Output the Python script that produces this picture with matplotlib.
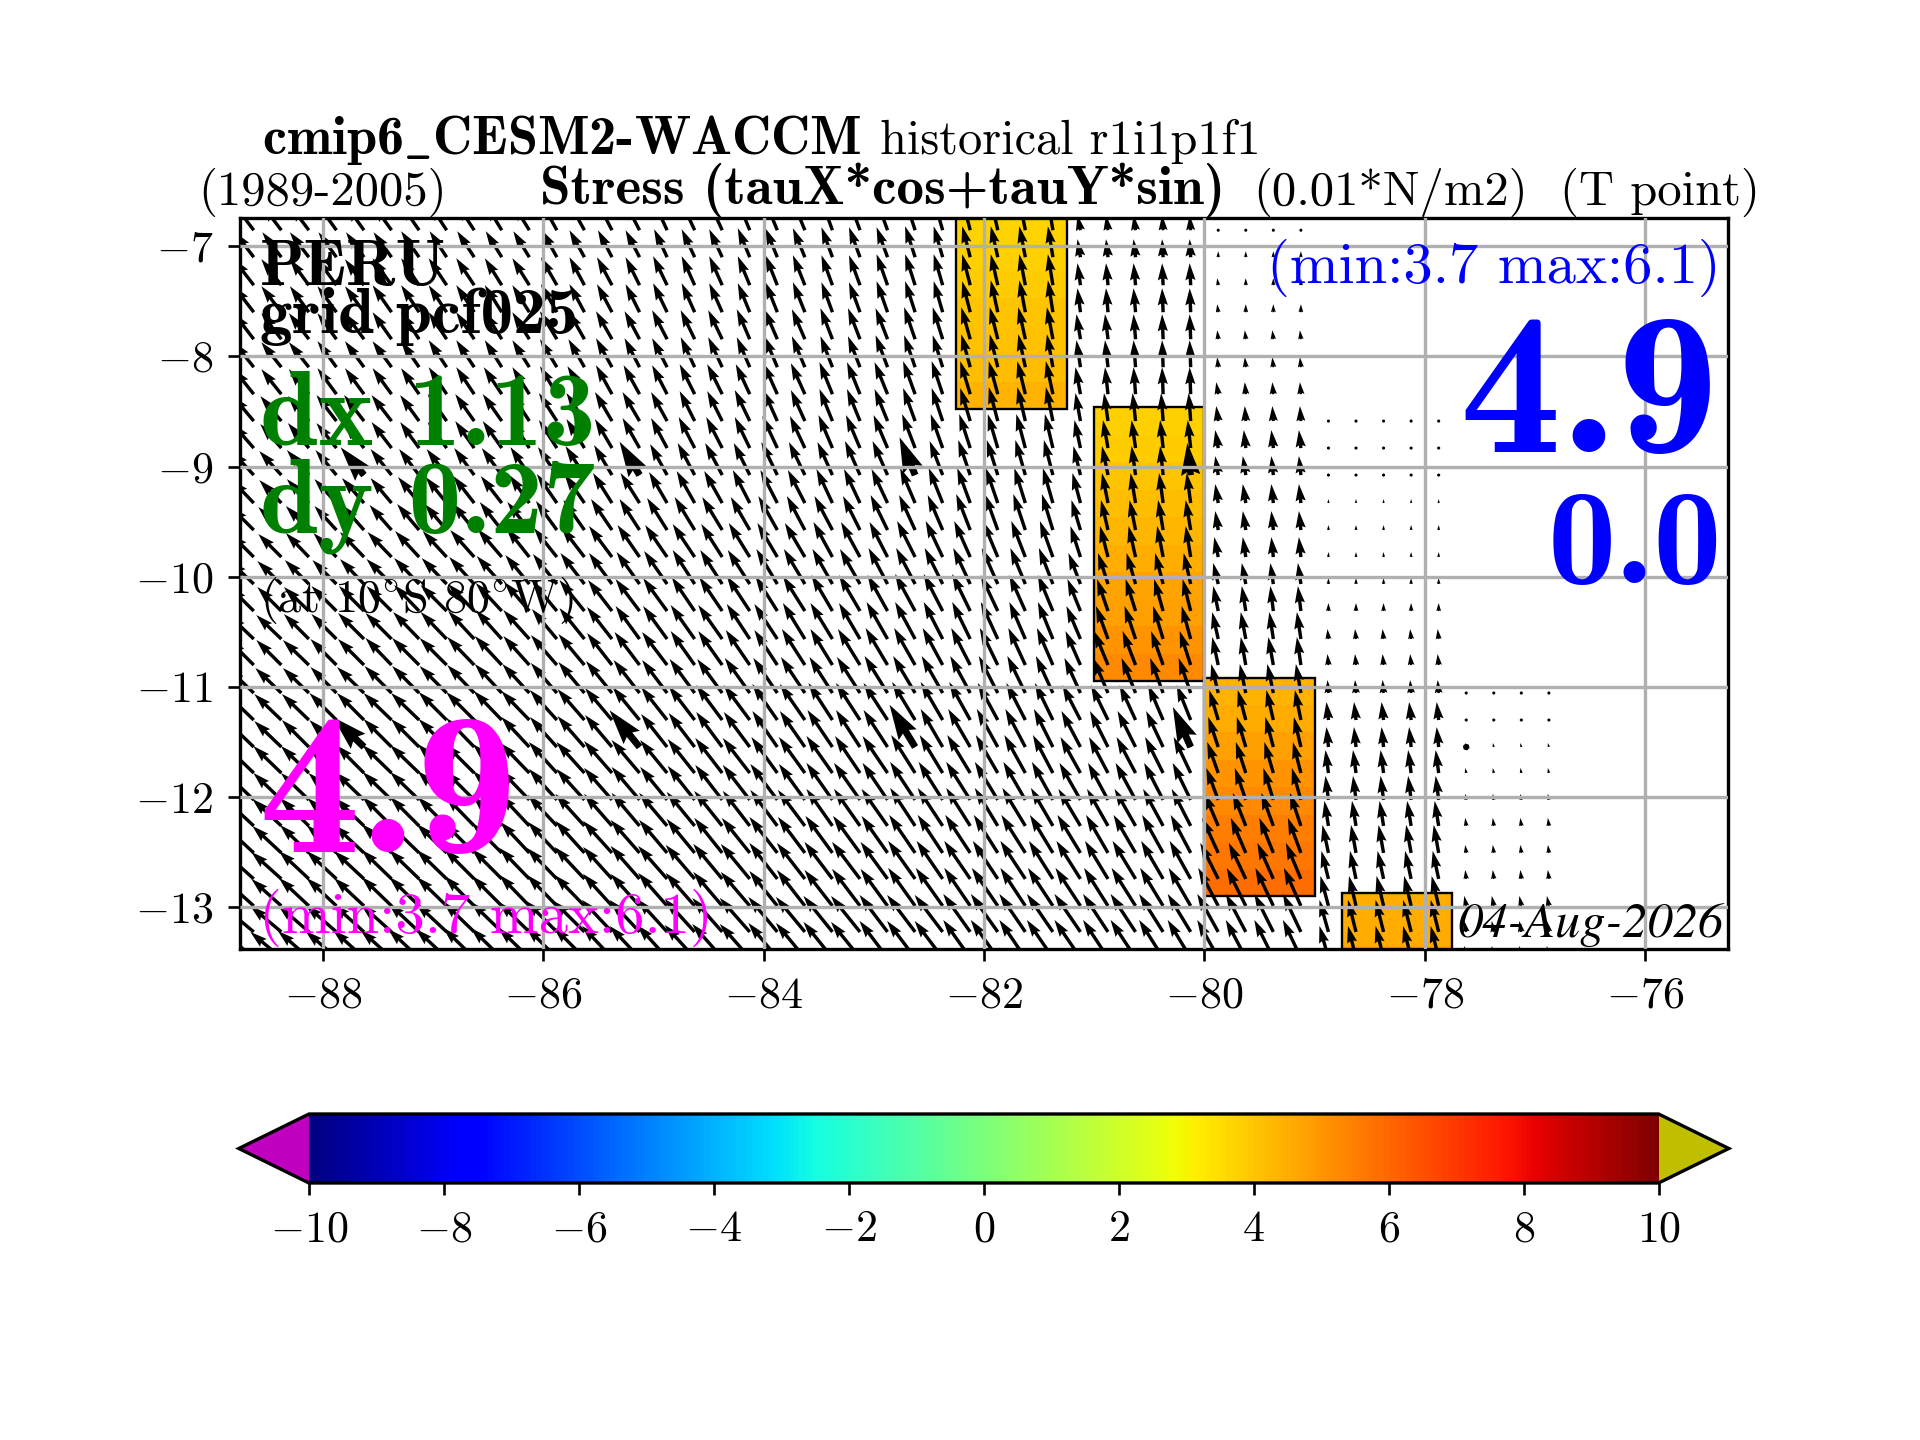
import numpy as np
import matplotlib
matplotlib.use("Agg")
import matplotlib.pyplot as plt
from matplotlib.patches import Rectangle

plt.rcParams.update({
    "font.family": "cmr10",
    "mathtext.fontset": "cm",
    "axes.formatter.use_mathtext": True,
    "axes.unicode_minus": True,
    "xtick.labelsize": 13.2,
    "ytick.labelsize": 13.2,
    "xtick.major.pad": 4.6,
    "ytick.major.pad": 4.6,
    "axes.linewidth": 1.0,
})

# longitude of each arrow column, latitude of each arrow row
lon = [-88.625, -88.375, -88.125, -87.875, -87.625, -87.375, -87.125, -86.875,
       -86.625, -86.375, -86.125, -85.875, -85.625, -85.375, -85.125, -84.875,
       -84.625, -84.375, -84.125, -83.875, -83.625, -83.375, -83.125, -82.875,
       -82.625, -82.375, -82.125, -81.875, -81.625, -81.375, -81.125, -80.875,
       -80.625, -80.375, -80.125, -79.875, -79.625, -79.375, -79.125, -78.875,
       -78.625, -78.375, -78.125, -77.875, -77.625, -77.375, -77.125, -76.875]
lat = [-6.855, -7.100, -7.354, -7.599, -7.844, -8.098, -8.343, -8.587, -8.832, -9.077,
       -9.331, -9.576, -9.821, -10.066, -10.311, -10.565, -10.801, -11.055, -11.300, -11.545,
       -11.781, -12.025, -12.261, -12.506, -12.742, -12.987, -13.223, -13.459]

# eastward component of each arrow, row by row (screen pixels)
u_rows = [
    [-19,-19,-19,-18,-18,-18,-18,-17,-17,-16,-16,-15,-15,-14,-14,-13,-13,-13,-12,-12,-12,-11,-11,-11,-10,-9,-8,-7,-6,-5,-3,-2,-2,-1,-1,0,0,0,0],
    [-19,-19,-19,-18,-18,-18,-18,-17,-17,-16,-16,-15,-15,-14,-14,-13,-13,-13,-12,-12,-12,-11,-11,-11,-10,-9,-8,-7,-6,-5,-3,-2,-2,-1,-1,0,0,0,0],
    [-20,-20,-19,-19,-19,-19,-18,-18,-18,-17,-17,-16,-15,-15,-14,-14,-13,-13,-12,-12,-12,-11,-11,-11,-10,-9,-8,-7,-6,-5,-3,-2,-2,-1,-1,-1,0,0,0],
    [-20,-20,-19,-19,-19,-19,-18,-18,-18,-17,-17,-16,-15,-15,-14,-14,-13,-13,-12,-12,-12,-11,-11,-11,-10,-9,-8,-7,-6,-5,-3,-2,-2,-1,-1,-1,0,0,0],
    [-20,-20,-20,-19,-19,-19,-18,-18,-18,-17,-17,-17,-16,-16,-15,-15,-14,-14,-13,-13,-13,-12,-12,-12,-11,-10,-9,-8,-7,-6,-4,-3,-2,-1,-1,-1,-1,-1,-1],
    [-20,-20,-20,-19,-19,-19,-18,-18,-18,-17,-17,-17,-16,-16,-15,-15,-14,-14,-13,-13,-13,-12,-12,-12,-11,-10,-9,-8,-7,-6,-4,-3,-2,-1,-1,-1,-1,-1,-1],
    [-20,-20,-20,-19,-19,-19,-18,-18,-18,-18,-17,-17,-17,-16,-16,-15,-15,-15,-14,-14,-14,-13,-13,-13,-12,-11,-10,-9,-8,-7,-5,-3,-2,-1,-1,-2,-1,-1,-1],
    [-21,-21,-21,-20,-20,-20,-19,-19,-19,-19,-18,-18,-18,-17,-17,-16,-15,-15,-15,-14,-14,-13,-13,-13,-12,-11,-10,-9,-8,-7,-5,-4,-3,-2,-2,-2,-1,-1,-1,0,0,0,0,0],
    [-21,-21,-21,-20,-20,-20,-19,-19,-19,-19,-18,-18,-18,-17,-17,-16,-16,-16,-15,-15,-15,-14,-14,-14,-13,-12,-11,-10,-9,-8,-6,-5,-4,-3,-3,-3,-2,-2,-2,0,0,0,0,0],
    [-22,-22,-22,-21,-21,-21,-20,-20,-20,-20,-19,-19,-19,-18,-18,-17,-17,-17,-16,-16,-16,-15,-15,-15,-14,-13,-12,-11,-10,-9,-7,-6,-4,-3,-3,-3,-3,-2,-2,0,0,0,0,0],
    [-22,-22,-22,-22,-22,-21,-21,-21,-21,-21,-20,-20,-20,-19,-19,-18,-18,-18,-17,-17,-17,-16,-16,-16,-15,-14,-13,-12,-11,-10,-8,-6,-5,-4,-4,-3,-3,-2,-2,0,0,0,0,0],
    [-23,-23,-23,-22,-22,-22,-22,-22,-22,-22,-22,-21,-21,-21,-20,-20,-20,-20,-19,-19,-18,-18,-17,-17,-16,-15,-14,-13,-12,-11,-9,-7,-6,-5,-5,-3,-3,-2,-2,0,0,0,0,0],
    [-23,-23,-23,-23,-24,-24,-24,-24,-24,-24,-23,-23,-23,-23,-22,-22,-22,-21,-21,-20,-20,-19,-19,-18,-18,-17,-16,-15,-14,-13,-10,-8,-7,-6,-5,-4,-3,-2,-2,0,0,0,0,0],
    [-24,-24,-24,-24,-24,-25,-25,-25,-25,-25,-24,-24,-24,-23,-23,-23,-22,-22,-22,-21,-21,-20,-20,-19,-19,-18,-17,-16,-15,-14,-12,-10,-9,-8,-7,-5,-4,-3,-3,0,0,0,0,0],
    [-24,-24,-25,-25,-25,-25,-25,-26,-26,-26,-25,-25,-25,-24,-24,-24,-23,-23,-23,-22,-22,-21,-21,-20,-20,-19,-18,-17,-16,-15,-13,-11,-10,-9,-8,-5,-4,-3,-3,0,0,0,0,0],
    [-25,-25,-25,-25,-26,-26,-26,-26,-26,-26,-26,-25,-25,-25,-24,-24,-24,-24,-23,-23,-22,-22,-21,-21,-20,-19,-18,-17,-16,-15,-14,-12,-11,-10,-9,-6,-5,-4,-4,-1,-1,-1,-1,-1],
    [-25,-25,-26,-26,-26,-26,-27,-27,-27,-27,-26,-26,-26,-25,-25,-25,-24,-24,-24,-23,-23,-22,-22,-22,-21,-20,-19,-18,-17,-16,-15,-14,-13,-12,-11,-6,-5,-5,-4,-1,-1,-1,-1,-1],
    [-26,-26,-26,-26,-27,-27,-27,-27,-27,-27,-27,-26,-26,-26,-26,-25,-25,-25,-25,-24,-24,-23,-23,-23,-22,-21,-20,-19,-18,-17,-16,-15,-14,-13,-12,-7,-6,-6,-5,-1,-1,-1,-1,-1,0,0,0,0],
    [-27,-27,-27,-27,-27,-28,-28,-28,-28,-28,-28,-27,-27,-27,-27,-26,-26,-26,-26,-25,-25,-24,-24,-24,-23,-22,-21,-20,-19,-18,-18,-17,-16,-15,-14,-9,-8,-7,-6,-2,-2,-2,-2,-2,0,0,0,0],
    [-27,-27,-27,-27,-28,-28,-28,-28,-28,-28,-28,-27,-27,-27,-27,-26,-26,-26,-26,-25,-25,-25,-24,-24,-23,-22,-22,-21,-20,-19,-19,-18,-18,-17,-16,-10,-9,-8,-7,-2,-2,-2,-2,-2,-1,-1,-1,-1],
    [-28,-28,-28,-28,-28,-29,-29,-29,-29,-29,-29,-28,-28,-28,-28,-27,-27,-27,-27,-26,-26,-26,-25,-25,-24,-23,-23,-22,-21,-20,-20,-19,-19,-18,-17,-11,-10,-9,-8,-3,-3,-3,-3,-3,-1,-1,-1,-1],
    [-28,-28,-28,-28,-29,-29,-29,-29,-29,-29,-29,-28,-28,-28,-28,-27,-27,-27,-27,-27,-26,-26,-26,-25,-25,-24,-24,-23,-22,-21,-21,-20,-20,-19,-18,-12,-11,-10,-9,-3,-3,-3,-3,-3,-1,-1,-1,-1],
    [-29,-29,-29,-29,-29,-29,-29,-29,-29,-29,-29,-29,-29,-28,-28,-28,-28,-28,-27,-27,-27,-26,-26,-26,-25,-25,-24,-23,-23,-22,-22,-21,-21,-20,-19,-14,-13,-12,-11,-4,-4,-4,-4,-4,-1,-1,-1,-1],
    [-29,-29,-29,-30,-30,-30,-30,-30,-30,-30,-29,-29,-29,-29,-29,-28,-28,-28,-28,-28,-27,-27,-27,-26,-26,-25,-25,-24,-24,-23,-23,-22,-22,-21,-20,-16,-15,-14,-13,-6,-5,-5,-5,-5,-1,-1,-1,-1],
    [-30,-30,-30,-30,-30,-30,-30,-30,-30,-30,-30,-30,-30,-29,-29,-29,-29,-29,-29,-28,-28,-28,-28,-27,-27,-26,-26,-25,-25,-24,-24,-23,-23,-22,-21,-18,-17,-16,-15,-7,-6,-6,-6,-6,-1,-1,-1,-1],
    [-30,-30,-30,-30,-30,-30,-30,-30,-30,-30,-30,-30,-30,-29,-29,-29,-29,-29,-29,-28,-28,-28,-28,-27,-27,-27,-26,-26,-25,-25,-25,-24,-24,-23,-22,-20,-19,-18,-17,-8,-7,-7,-7,-7,-2,-2,-2,-2],
    [-31,-31,-31,-31,-31,-31,-31,-31,-31,-31,-31,-31,-31,-30,-30,-30,-30,-30,-30,-29,-29,-29,-29,-28,-28,-28,-27,-27,-26,-26,-26,-25,-25,-24,-23,-21,-20,-19,-18,-9,-8,-8,-8,-8,-2,-2,-2,-2],
    [-31,-31,-31,-31,-31,-31,-31,-31,-31,-31,-31,-31,-31,-30,-30,-30,-30,-30,-30,-29,-29,-29,-29,-28,-28,-28,-27,-27,-26,-26,-26,-25,-25,-24,-23,-21,-20,-19,-18,-9,-8,-8,-8,-8,-2,-2,-2,-2],
]

# northward component of each arrow, row by row
v_rows = [
    [25,25,25,25,25,25,26,26,26,26,26,27,27,27,27,28,28,28,29,29,29,30,30,30,31,31,31,31,31,31,15,15,15,15,15,0,0,0,0],
    [25,25,25,25,25,25,26,26,26,26,26,27,27,27,27,28,28,28,29,29,29,30,30,30,31,31,31,31,31,31,18,18,18,18,18,6,6,6,6],
    [26,26,26,26,26,27,27,27,27,27,27,28,28,28,28,29,29,29,29,30,30,30,30,31,31,31,31,31,31,31,22,22,22,22,22,7,7,7,7],
    [26,26,26,26,26,27,27,27,27,27,27,28,28,28,28,29,29,29,29,30,30,30,30,31,31,31,31,32,32,32,24,24,24,24,24,8,8,8,8],
    [26,26,26,26,26,27,27,27,27,27,27,28,28,28,28,29,29,29,30,30,30,31,31,31,32,32,32,32,32,32,25,25,25,25,25,9,9,9,9],
    [25,25,25,26,26,26,26,27,27,27,27,28,28,29,29,29,30,30,30,31,31,31,31,32,32,32,33,33,33,33,27,27,27,27,27,10,10,10,10],
    [25,25,25,26,26,26,26,27,27,27,27,28,28,29,29,29,30,30,30,31,31,32,32,32,33,33,33,33,33,33,27,27,27,27,27,12,12,12,12],
    [25,25,25,26,26,26,26,27,27,27,28,28,28,29,29,29,30,30,31,31,31,32,32,32,33,33,33,34,34,34,28,28,28,28,28,15,15,15,15,0,0,0,0,0],
    [24,24,25,25,25,26,26,26,27,27,28,28,29,29,30,30,31,31,31,32,32,33,33,33,34,34,34,34,34,34,28,28,28,28,28,18,18,18,18,3,3,3,3,3],
    [24,24,25,25,25,26,26,26,27,27,28,28,29,30,30,31,32,32,32,33,33,33,34,34,34,34,35,35,35,35,29,29,29,29,29,19,19,19,19,3,3,3,3,3],
    [23,23,24,24,25,25,26,26,27,27,28,29,29,30,30,31,32,32,33,33,33,34,34,34,35,35,35,35,35,35,30,30,30,30,30,19,19,19,19,4,4,4,4,4],
    [23,23,24,24,25,25,26,26,27,28,28,29,30,31,31,32,33,33,33,34,34,34,34,35,35,35,36,36,36,36,30,30,30,30,30,19,19,19,19,5,5,5,5,5],
    [23,23,24,24,25,25,26,26,27,28,29,29,30,31,32,32,33,33,34,34,34,35,35,35,36,36,36,36,36,36,31,31,31,31,31,20,20,20,20,5,5,5,5,5],
    [23,23,24,24,25,25,26,26,27,28,29,30,31,31,32,33,34,34,34,35,35,35,35,36,36,36,36,36,36,36,31,31,31,31,31,21,21,21,21,6,6,6,6,6],
    [24,24,24,25,25,25,26,26,27,28,29,30,31,31,32,33,34,34,35,35,35,36,36,36,37,37,37,36,36,36,32,32,32,32,32,25,25,25,25,8,8,8,8,8],
    [24,24,25,25,26,26,27,27,28,29,29,30,31,32,33,33,34,34,35,35,36,36,36,37,37,37,37,37,37,37,33,33,33,33,33,27,27,27,27,10,10,10,10,10],
    [25,25,25,26,26,27,27,27,28,29,29,30,31,32,33,33,34,34,35,35,36,36,36,37,37,37,37,37,37,37,34,34,34,34,34,28,28,28,28,11,11,11,11,11],
    [25,25,25,26,26,27,27,27,28,29,29,30,31,32,33,33,34,34,35,35,36,36,36,37,37,37,37,37,37,37,35,35,35,35,35,29,29,29,29,13,13,13,13,13,0,0,0,0],
    [26,26,26,27,27,27,27,28,28,29,29,30,31,32,33,33,34,35,35,36,36,37,37,37,38,38,38,37,37,37,35,35,35,35,35,30,30,30,30,18,18,18,18,18,3,3,3,3],
    [26,26,27,27,27,28,28,28,29,29,30,30,31,32,33,33,34,35,35,36,36,37,37,37,38,38,38,38,38,38,36,36,36,36,36,30,30,30,30,20,20,20,20,20,4,4,4,4],
    [27,27,27,27,28,28,28,29,29,29,30,31,31,32,33,33,34,35,35,36,36,37,37,37,38,38,38,38,38,38,36,36,36,36,36,31,31,31,31,23,23,23,23,23,5,5,5,5],
    [27,27,27,27,28,28,28,29,29,29,30,31,31,32,33,33,34,35,35,36,36,37,37,37,38,38,38,38,38,38,37,37,37,37,37,32,32,32,32,24,24,24,24,24,6,6,6,6],
    [27,27,28,28,28,29,29,29,30,30,31,31,32,32,33,33,34,35,35,36,36,37,37,37,38,38,38,38,38,38,37,37,37,37,37,33,33,33,33,25,25,25,25,25,8,8,8,8],
    [27,27,28,28,28,29,29,29,30,30,31,31,32,32,33,33,34,35,35,36,36,37,37,37,38,38,38,38,38,38,38,38,38,38,38,35,35,35,35,28,28,28,28,28,8,8,8,8],
    [27,27,28,28,28,29,29,29,30,30,31,31,32,32,33,33,34,35,35,36,36,37,37,37,38,38,38,38,38,38,38,38,38,38,38,36,36,36,36,28,28,28,28,28,9,9,9,9],
    [27,27,28,28,28,29,29,29,30,30,31,31,31,32,32,33,33,34,34,35,36,36,37,37,38,38,38,38,38,38,38,38,38,38,38,38,38,38,38,30,30,30,30,30,10,10,10,10],
    [26,26,27,27,28,28,29,29,30,30,30,31,31,32,32,33,33,34,34,35,35,36,36,37,37,37,38,38,38,38,38,38,38,38,38,38,38,38,38,32,32,32,32,32,11,11,11,11],
    [26,26,27,27,28,28,29,29,30,30,30,31,31,32,32,33,33,34,34,35,35,36,36,37,37,37,38,38,38,38,38,38,38,38,38,38,38,38,38,32,32,32,32,32,12,12,12,12],
]

# columns and rows picked out by the heavier arrows
big_cols = [4, 14, 24, 34, 44]
big_rows = [9, 19]

# coloured patches: cell edges and the cell values
patch_a_x = [-82.25, -82.0, -81.75, -81.5, -81.25]
patch_a_y = [-6.5, -6.74, -6.98, -7.22, -7.47, -7.73, -7.98, -8.23, -8.48]
patch_a_v = [3.7, 3.7, 3.8, 3.9, 4.0, 4.1, 4.2, 4.4]
patch_b_x = [-81.0, -80.75, -80.5, -80.25, -80.0]
patch_b_y = [-8.46, -8.71, -8.96, -9.21, -9.46, -9.71, -9.96, -10.2, -10.45, -10.7, -10.95]
patch_b_v = [3.8, 3.9, 4.0, 4.2, 4.3, 4.5, 4.7, 4.8, 5.0, 5.3]
patch_c_x = [-80.0, -79.75, -79.5, -79.25, -79.0]
patch_c_y = [-10.915, -11.16, -11.41, -11.66, -11.91, -12.16, -12.41, -12.66, -12.9]
patch_c_v = [4.4, 4.6, 4.8, 5.0, 5.3, 5.5, 5.7, 5.9]
patch_d_x = [-78.75, -78.5, -78.25, -78.0, -77.75]
patch_d_y = [-12.866, -13.11, -13.35, -13.6]
patch_d_v = [4.5, 4.6, 4.7]

x_ticks = [-88, -86, -84, -82, -80, -78, -76]
y_ticks = [-7, -8, -9, -10, -11, -12, -13]
cbar_ticks = [-10, -8, -6, -4, -2, 0, 2, 4, 6, 8, 10]

W, H = 1920, 1440
fig = plt.figure(figsize=(8, 6), dpi=240)
ax = fig.add_axes([240 / W, 1 - 949 / H, 1488 / W, 731 / H])
ax.set_xlim(-88.75, -75.25)
ax.set_ylim(-13.378, -6.744)

cmap = plt.get_cmap("jet").copy()
cmap.set_under((0.75, 0, 0.75))
cmap.set_over((0.75, 0.75, 0))

mesh = None
for px, py, pv in [(patch_a_x, patch_a_y, patch_a_v), (patch_b_x, patch_b_y, patch_b_v),
                   (patch_c_x, patch_c_y, patch_c_v), (patch_d_x, patch_d_y, patch_d_v)]:
    vals = np.repeat(np.array(pv)[:, None], len(px) - 1, axis=1)
    mesh = ax.pcolormesh(px, py, vals, cmap=cmap, vmin=-10, vmax=10, shading="flat", zorder=1)
    ax.add_patch(Rectangle((px[0], py[-1]), px[-1] - px[0], py[0] - py[-1], fill=False,
                           ec="k", lw=0.7, zorder=1.1))

n_col = len(lon)
U = np.full((len(lat), n_col), np.nan)
V = np.full((len(lat), n_col), np.nan)
for i, (ur, vr) in enumerate(zip(u_rows, v_rows)):
    U[i, :len(ur)] = ur
    V[i, :len(vr)] = vr
U = np.ma.masked_invalid(U)
V = np.ma.masked_invalid(V)
X, Y = np.meshgrid(lon, lat)

ax.quiver(X, Y, U, V, angles="uv", scale_units="dots", scale=1, units="dots", width=3.4,
          color="k", zorder=1.2)
ii = np.ix_(big_rows, big_cols)
ax.quiver(X[ii], Y[ii], U[ii], V[ii], angles="uv", scale_units="dots", scale=0.9, units="dots",
          width=7, color="k", zorder=1.2)

ax.grid(True, color="#b0b0b0", lw=1.0)
ax.set_axisbelow(False)
ax.set_xticks(x_ticks)
ax.set_yticks(y_ticks)


def label(px, py, s, **kw):
    fig.text(px / W, 1 - py / H, s, va="baseline", **kw)


# titles
label(262, 154, r"cmip6$\mathbf{\_}$CESM2-WACCM", family="cmb10", size=16.3)
label(880, 154, "historical r1i1p1f1", size=14.5)
label(198, 204.5, "(1989-2005)", size=14.6)
label(540, 204.5, "Stress (tauX*cos+tauY*sin)", family="cmb10", size=16.5)
label(1253, 204.5, "(0.01*N/m2)", size=14.6)
label(1560, 204.5, "(T point)", size=14.6)

# annotations inside the frame
label(260, 285, "PERU", family="cmb10", size=19.5)
label(260, 333, "grid pcf025", family="cmb10", size=19.5)
label(260, 445, "dx 1.13", family="cmb10", size=31.5, color="green")
label(260, 533, "dy 0.27", family="cmb10", size=31.5, color="green")
label(260, 612, r"(at 10$^{\circ}$S 80$^{\circ}$W)", size=13.9)
label(258, 852, "4.9", family="cmb10", size=61, color="magenta")
label(259, 933, "(min:3.7 max:6.1)", size=17.6, color="magenta")
label(1721, 283, "(min:3.7 max:6.1)", size=17.6, color="blue", ha="right")
label(1719, 452, "4.9", family="cmb10", size=61, color="blue", ha="right")
label(1722, 583, "0.0", family="cmb10", size=41, color="blue", ha="right")
label(1724, 937, "04-Aug-2026", family="STIXGeneral", style="italic", size=15.1, ha="right")

cax = fig.add_axes([238.8 / W, 1 - 1183 / H, 1490 / W, 69 / H])
cb = fig.colorbar(mesh, cax=cax, orientation="horizontal", extend="both", extendfrac=0.052,
                  ticks=cbar_ticks)

fig.savefig("out.png", dpi=240)
